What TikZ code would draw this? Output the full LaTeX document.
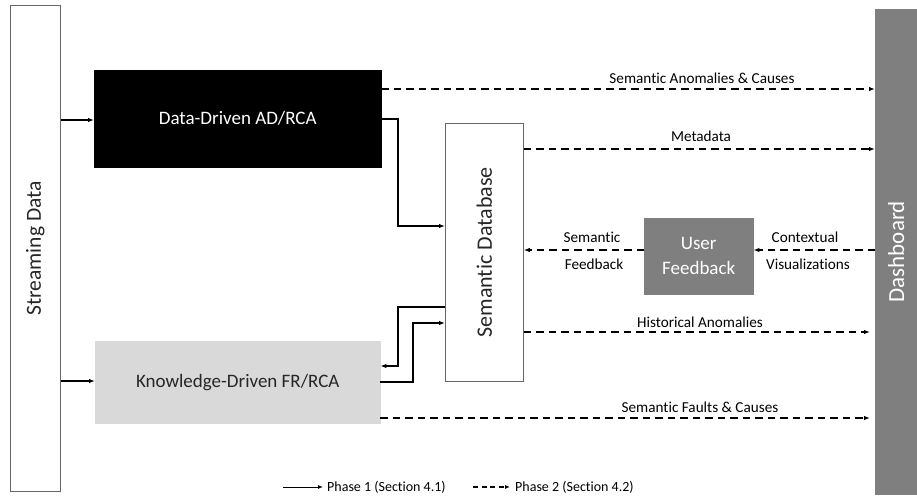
\documentclass[tikz,border=0pt]{standalone}
\usepackage{fontspec}
\setmainfont{Carlito}[Ligatures=NoCommon]
\usetikzlibrary{arrows.meta}
\definecolor{dashgray}{HTML}{7F7F7F}
\definecolor{lightbox}{HTML}{D9D9D9}
\begin{document}
\begin{tikzpicture}[x=1pt,y=-1pt,
  blk/.style={draw=#1,fill=#1,inner sep=0pt,anchor=north west},
  solidarrow/.style={line width=1.4pt,-{Latex[length=6pt,width=4.5pt]}},
  dasharrow/.style={line width=1.7pt,dash pattern=on 7.5pt off 5pt,-{Latex[length=6pt,width=4.5pt]}},
  lbl/.style={font=\fontsize{15.2}{17}\selectfont,inner sep=0pt}]
\useasboundingbox (0,0) rectangle (917,500);
\fill[white] (0,0) rectangle (917,500);

% main blocks
\node[draw=gray!80!black,fill=white,line width=0.8pt,inner sep=0pt,anchor=north west,
  minimum width=50pt,minimum height=486pt] (stream) at (10,5) {};
\node[rotate=90,text=black!85,font=\fontsize{21.5}{24}\selectfont] (streamtxt) at (stream.center) {Streaming Data};

\node[blk=black,minimum width=287pt,minimum height=97pt,text=white,
  font=\fontsize{19}{22}\selectfont] (dd) at (94,70) {Data-Driven AD/RCA};

\node[blk=lightbox,minimum width=285pt,minimum height=82pt,text=black!85,
  font=\fontsize{19}{22}\selectfont] (kd) at (95,341) {Knowledge-Driven FR/RCA};

\node[draw=gray!80!black,fill=white,line width=0.8pt,inner sep=0pt,anchor=north west,
  minimum width=78pt,minimum height=258pt] (sdb) at (445,123) {};
\node[rotate=90,text=black!85,font=\fontsize{22}{24}\selectfont] (sdbtxt) at (sdb.center) {Semantic Database};

\node[blk=dashgray,minimum width=109pt,minimum height=76pt,text=white,align=center,
  font=\fontsize{19}{25}\selectfont] (uf) at (644,218) {User\\Feedback};

\node[blk=dashgray,minimum width=42pt,minimum height=485pt] (dash) at (875,9) {};
\node[rotate=90,text=white,font=\fontsize{23}{25}\selectfont] (dashtxt) at (dash.center) {Dashboard};

% phase 1 connectors
\draw[solidarrow] (stream.east |- 0,120) -- (dd.west |- 0,120);
\draw[solidarrow] (stream.east |- 0,381) -- (kd.west |- 0,381);
\draw[solidarrow] (dd.east |- 0,119) -- (398,119) -- (398,226) -- (sdb.west |- 0,226);
\draw[solidarrow] (sdb.west |- 0,307) -- (398,307) -- (398,366) -- (kd.east |- 0,366);
\draw[solidarrow] (kd.east |- 0,382) -- (413,382) -- (413,323) -- (sdb.west |- 0,323);

% phase 2 connectors
\draw[dasharrow] (dd.east |- 0,89) -- (dash.west |- 0,89);
\draw[dasharrow] (sdb.east |- 0,149) -- (dash.west |- 0,149);
\draw[dasharrow] (sdb.east |- 0,332) -- (870,332);
\draw[dasharrow] (kd.east |- 0,418) -- (870,418);
\draw[dasharrow] (dash.west |- 0,250) -- (uf.east |- 0,250);
\draw[dasharrow] (uf.west |- 0,250) -- (sdb.east |- 0,250);

% connector labels
\node[lbl] (l1) at (702,78) {Semantic Anomalies \& Causes};
\node[lbl] (l2) at (701,136) {Metadata};
\node[lbl] (l3) at (700,322) {Historical Anomalies};
\node[lbl] (l4) at (700,407) {Semantic Faults \& Causes};
\node[lbl] (l5) at (592,237) {Semantic};
\node[lbl] (l6) at (594,264) {Feedback};
\node[lbl] (l7) at (805,237) {Contextual};
\node[lbl] (l8) at (808,264) {Visualizations};

% legend
\coordinate (p1a) at (283,487);
\coordinate (p1b) at (323,487);
\coordinate (p2a) at (473,487);
\coordinate (p2b) at (510,487);
\draw[line width=1pt,-{Latex[length=5pt,width=4pt]}] (p1a) -- (p1b);
\node[anchor=west,inner sep=0pt,font=\fontsize{14}{15}\selectfont] (t1) at (327,487) {Phase 1 (Section 4.1)};
\draw[line width=1.2pt,dash pattern=on 5pt off 3.5pt,-{Latex[length=5pt,width=4pt]}] (p2a) -- (p2b);
\node[anchor=west,inner sep=0pt,font=\fontsize{14}{15}\selectfont] (t2) at (515,487) {Phase 2 (Section 4.2)};
\end{tikzpicture}
\end{document}
